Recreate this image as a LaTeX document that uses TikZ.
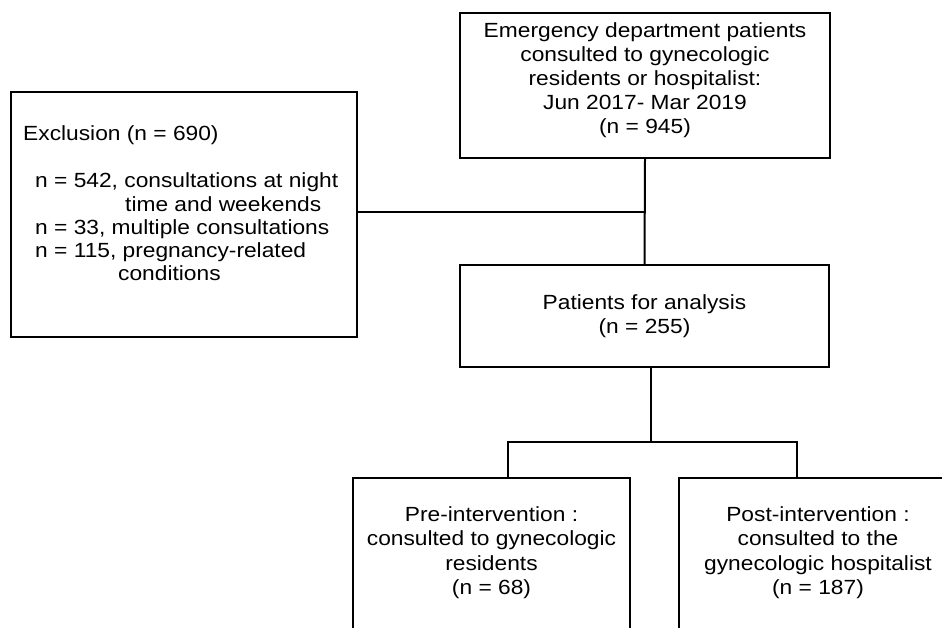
\documentclass[tikz,border=0pt]{standalone}
\usepackage{fontspec}
\setmainfont{Liberation Sans}[FakeStretch=1.11]
\begin{document}
\begin{tikzpicture}[x=1pt,y=-1pt,
  box/.style={draw=black, line width=2pt, fill=none, rectangle, inner sep=0pt},
  txt/.style={inner sep=0pt, font=\fontsize{20.5}{24}\selectfont, text=black},
  conn/.style={draw=black, line width=2pt}]
\clip (0,0) rectangle (942,627);
\fill[white] (0,0) rectangle (942,627);
% boxes
\node[box, minimum width=370pt, minimum height=145pt] (top) at (645,85.5) {};
\node[box, minimum width=346pt, minimum height=245pt] (excl) at (184,214.5) {};
\node[box, minimum width=369pt, minimum height=102pt] (pat) at (644.5,316) {};
\node[box, minimum width=277pt, minimum height=200pt] (pre) at (491.5,578) {};
\node[box, minimum width=278pt, minimum height=200pt] (post) at (818,578) {};
% texts
\node[txt, align=center] (toptxt) at (645,80) {Emergency department patients\\consulted to gynecologic\\residents or hospitalist:\\Jun 2017- Mar 2019\\(n = 945)};
\node[txt, anchor=west] (excltitle) at (23,135) {Exclusion (n = 690)};
\node[txt, align=left, anchor=west, font=\fontsize{20.5}{23.3}\selectfont] (excllist) at (35,227) {n = 542, consultations at night\\\hspace*{90pt}time and weekends\\n = 33, multiple consultations\\n = 115, pregnancy-related\\\hspace*{83pt}conditions};
\node[txt, align=center] (pattxt) at (644.5,316) {Patients for analysis\\(n = 255)};
\node[txt, align=center, font=\fontsize{20.5}{24.5}\selectfont] (pretxt) at (491.5,552.5) {Pre-intervention :\\consulted to gynecologic\\residents\\(n = 68)};
\node[txt, align=center, font=\fontsize{20.5}{24.5}\selectfont] (posttxt) at (818,552.5) {Post-intervention :\\consulted to the\\gynecologic hospitalist\\(n = 187)};
% connectors
\coordinate (j1) at (645,212);
\coordinate (bm) at (651,442);
\coordinate (bl) at (508,442);
\coordinate (br) at (797,442);
\draw[conn] (top.south) -- (pat.north);
\draw[conn] (j1 -| excl.east) -- (j1);
\draw[conn] (bm |- pat.south) -- (bm);
\draw[conn] (bl |- pre.north) -- (bl) -- (br) -- (br |- post.north);
\end{tikzpicture}
\end{document}
